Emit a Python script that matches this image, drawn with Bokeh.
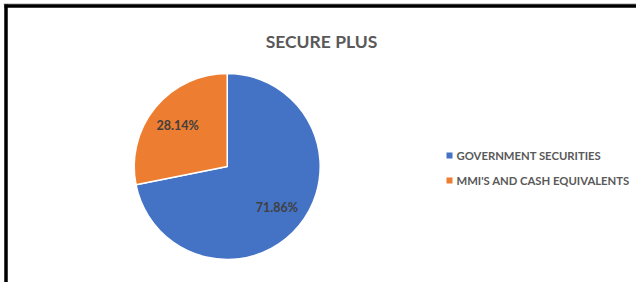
import math
from bokeh.plotting import figure
from bokeh.models import Range1d
from bokeh.core.properties import value
from bokeh.embed import file_html
from bokeh.resources import INLINE

title_text = "SECURE PLUS"
categories = ["GOVERNMENT SECURITIES", "MMI'S AND CASH EQUIVALENTS"]
shares = [71.86, 28.14]
labels = ["71.86%", "28.14%"]
colors = ["#4472C4", "#ED7D31"]

FONT = "Lato"
W, H = 636, 282
# data coordinates equal figure pixels (y negated)
p = figure(width=W, height=H, output_backend="svg", toolbar_location=None,
           x_range=Range1d(0, W), y_range=Range1d(-H, 0),
           min_border=0, tools="")
p.axis.visible = False
p.grid.visible = False
p.outline_line_color = None
p.background_fill_color = "white"
p.border_fill_color = "white"

cx, cy, R = 226.7, -166.0, 93.0
total = sum(shares)
start = math.pi / 2
starts, ends, mids = [], [], []
acc = 0.0
for s in shares:
    a0 = start - 2 * math.pi * acc / total
    acc += s
    a1 = start - 2 * math.pi * acc / total
    starts.append(a0)
    ends.append(a1)
    mids.append((a0 + a1) / 2)

p.wedge(x=[cx] * len(shares), y=[cy] * len(shares), radius=R,
        start_angle=starts, end_angle=ends, direction="clock",
        fill_color=colors, line_color="white", line_width=1.5)

lr = 0.69 * R
lx = [cx + lr * math.cos(m) for m in mids]
ly = [cy + lr * math.sin(m) for m in mids]
p.text(x=lx, y=ly, text=labels, text_align="center", text_baseline="middle",
       text_font=value(FONT), text_font_style="bold", text_font_size="12.5px",
       text_color="#404040")

# title
p.text(x=[321], y=[-41], text=[title_text], text_align="center", text_baseline="middle",
       text_font=value(FONT), text_font_style="bold", text_font_size="17.5px",
       text_color="#595959")

# legend
ky = [-155 - 25 * i for i in range(len(categories))]
p.scatter(x=[449] * len(categories), y=ky, marker="square", size=6,
          fill_color=colors, line_color=None)
p.text(x=[456] * len(categories), y=ky, text=categories, text_align="left",
       text_baseline="middle", text_font=value(FONT), text_font_style="bold",
       text_font_size="11.3px", text_color="#595959")

# frame lines
p.segment(x0=[3], y0=[-3.5], x1=[W], y1=[-3.5], line_color="#a0a0a0", line_width=1)
p.segment(x0=[4], y0=[-5.5], x1=[W], y1=[-5.5], line_color="black", line_width=3.5)
p.segment(x0=[5.5], y0=[-4], x1=[5.5], y1=[-H], line_color="black", line_width=3.5)

open("out.html", "w").write(file_html(p, INLINE))
